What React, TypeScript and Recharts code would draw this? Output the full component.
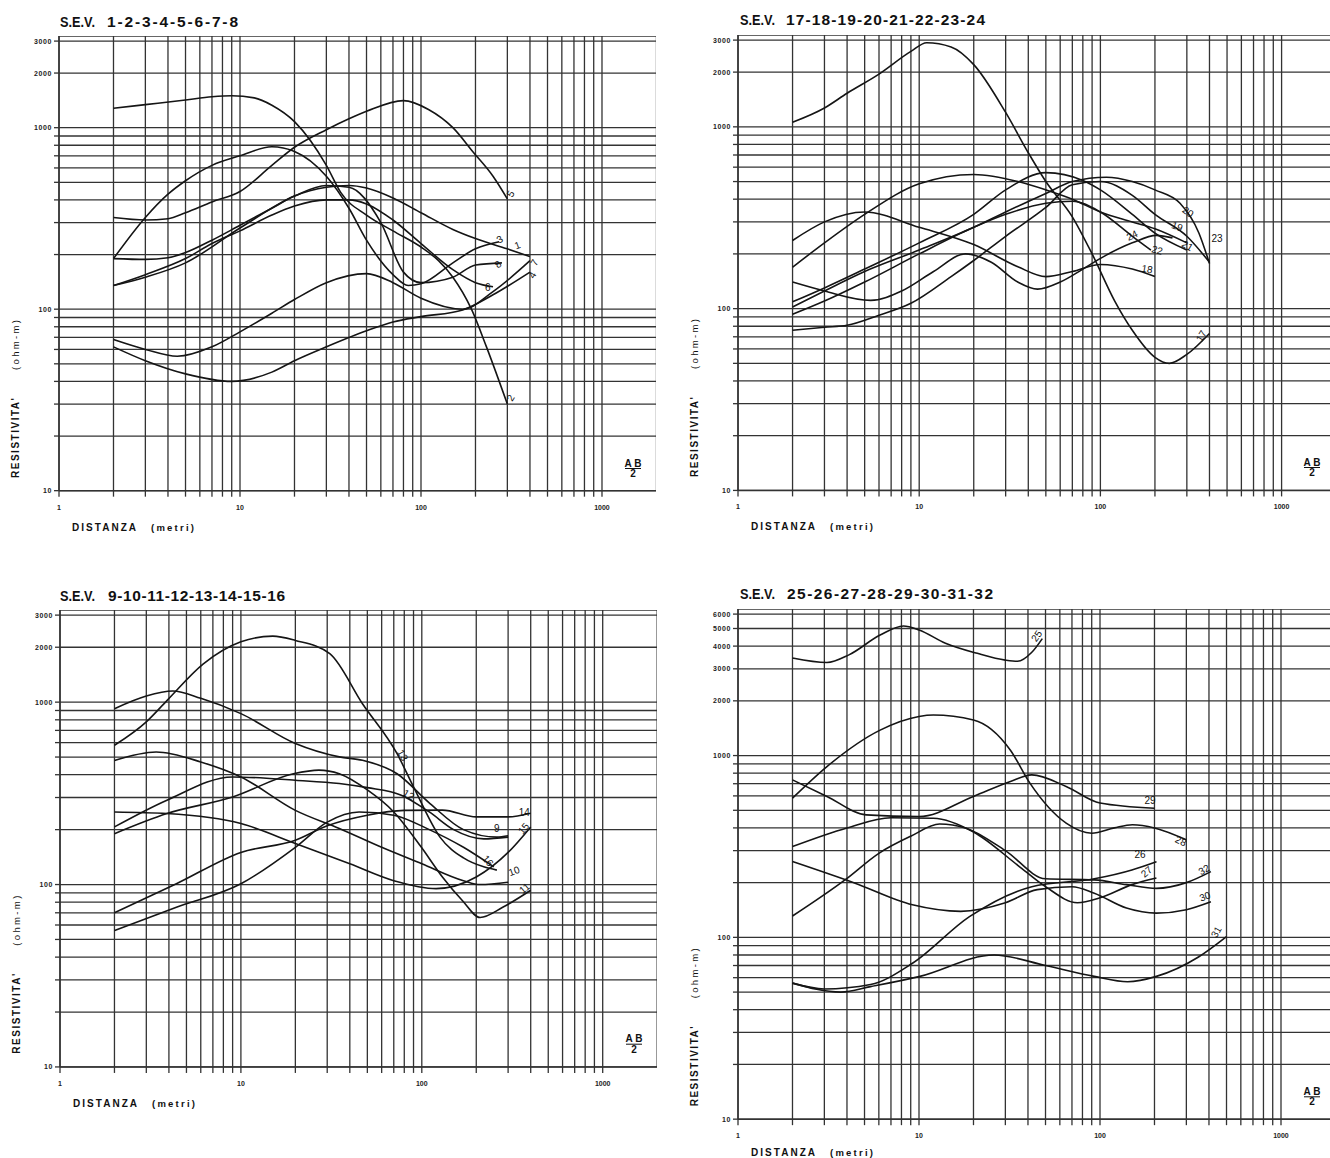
import React from "react";
import { LineChart, Line, XAxis, YAxis, CartesianGrid } from "recharts";

type Pt = [number, number];

// grid / tick values
const xTicks = [1, 2, 3, 4, 5, 6, 7, 8, 9, 10, 20, 30, 40, 50, 60, 70, 80, 90, 100, 200, 300, 400, 500, 600, 700, 800, 900, 1000];
const xLabels = [1, 10, 100, 1000];
const yTicks = [10, 20, 30, 40, 50, 60, 70, 80, 90, 100, 200, 300, 400, 500, 600, 700, 800, 900, 1000, 2000, 3000];
const yTicksHigh = [...yTicks, 4000, 5000, 6000];
const yLabels = [10, 100, 1000, 2000, 3000];
const yLabelsHigh = [10, 100, 1000, 2000, 3000, 4000, 5000, 6000];

// S.E.V. 1-8  [distanza AB/2 (m), resistivita (ohm-m)]
const sev1: Pt[] = [[2, 190], [3, 188], [4, 192], [5, 205], [7, 240], [10, 290], [15, 360], [20, 420], [30, 470], [40, 480], [50, 465], [70, 410], [100, 340], [150, 275], [200, 245], [300, 215], [400, 195]];
const sev2: Pt[] = [[2, 1280], [3, 1340], [5, 1420], [7, 1480], [9, 1500], [12, 1460], [15, 1330], [20, 1080], [30, 620], [36, 440], [50, 330], [70, 270], [100, 220], [125, 185], [150, 150], [190, 100], [230, 62], [300, 30]];
const sev3: Pt[] = [[2, 190], [3, 320], [4, 430], [5, 510], [7, 620], [10, 700], [15, 785], [20, 740], [30, 540], [40, 360], [50, 240], [70, 155], [85, 135], [100, 138], [150, 180], [200, 215], [270, 235]];
const sev4: Pt[] = [[2, 62], [3, 52], [5, 44], [9, 40], [15, 45], [20, 52], [30, 62], [50, 76], [70, 85], [100, 91], [170, 99], [250, 120], [400, 160]];
const sev5: Pt[] = [[2, 320], [3, 310], [4, 315], [5, 340], [7, 390], [10, 445], [15, 620], [20, 780], [30, 975], [40, 1120], [50, 1230], [80, 1410], [110, 1260], [150, 1000], [195, 730], [250, 540], [300, 405]];
const sev6: Pt[] = [[2, 135], [3, 155], [5, 190], [7, 230], [10, 270], [15, 330], [20, 370], [30, 400], [40, 400], [50, 380], [70, 310], [100, 230], [150, 165], [200, 140], [250, 133]];
const sev7: Pt[] = [[2, 68], [3, 60], [4.5, 55], [7, 62], [10, 75], [15, 95], [20, 113], [30, 140], [50, 157], [70, 140], [100, 115], [170, 100], [250, 125], [400, 185]];
const sev8: Pt[] = [[2, 135], [3, 150], [5, 180], [10, 280], [20, 420], [30, 480], [40, 470], [60, 300], [80, 160], [100, 140], [150, 150], [200, 175], [280, 180]];

// S.E.V. 17-24
const sev17: Pt[] = [[2, 1060], [3, 1270], [4, 1530], [6, 1950], [9, 2600], [11, 2900], [15, 2750], [20, 2200], [30, 1200], [40, 720], [50, 500], [70, 320], [90, 200], [120, 110], [150, 76], [200, 54], [240, 50], [300, 56], [400, 73]];
const sev18: Pt[] = [[2, 237], [3, 300], [5, 340], [10, 280], [20, 225], [35, 170], [50, 150], [70, 160], [100, 175], [150, 165], [200, 150]];
const sev19: Pt[] = [[2, 169], [3, 230], [5, 330], [10, 486], [20, 547], [36, 497], [50, 450], [70, 400], [100, 340], [150, 300], [200, 275], [300, 230]];
const sev20: Pt[] = [[2, 102], [3, 125], [5, 160], [10, 210], [20, 280], [30, 340], [50, 430], [70, 500], [108, 528], [150, 500], [200, 450], [275, 380], [350, 260], [400, 177]];
const sev21: Pt[] = [[2, 109], [3, 130], [5, 165], [10, 230], [20, 330], [30, 450], [50, 560], [80, 507], [100, 450], [150, 330], [200, 260], [300, 210]];
const sev22: Pt[] = [[2, 93], [3, 110], [5, 140], [10, 200], [20, 280], [30, 330], [50, 380], [70, 390], [100, 340], [150, 250], [190, 210]];
const sev23: Pt[] = [[2, 76], [3, 79], [4, 81], [6, 92], [9, 107], [15, 150], [20, 184], [30, 250], [50, 360], [70, 480], [100, 500], [150, 420], [200, 330], [300, 250], [400, 180]];
const sev24: Pt[] = [[2, 140], [3, 125], [5.4, 111], [8, 125], [12, 160], [18, 200], [25, 180], [35, 140], [45, 128], [60, 140], [80, 165], [103, 192], [150, 230], [204, 253], [250, 245]];

// S.E.V. 9-16
const sev9: Pt[] = [[2, 920], [3, 1080], [4.2, 1150], [6, 1050], [10, 865], [20, 593], [35, 501], [47, 480], [73, 405], [111, 278], [170, 200], [260, 182], [300, 185]];
const sev10: Pt[] = [[2, 479], [3.4, 533], [6, 470], [10, 389], [20, 255], [35, 203], [60, 160], [100, 130], [170, 105], [210, 100], [300, 103]];
const sev11: Pt[] = [[2, 190], [3.9, 245], [9, 302], [19.5, 405], [27, 424], [35, 405], [50, 330], [70, 250], [99, 161], [130, 110], [167, 82], [210, 66], [280, 75], [400, 93]];
const sev12: Pt[] = [[2, 207], [3.9, 290], [9, 389], [20, 373], [35, 358], [50, 340], [77, 309], [110, 250], [150, 200], [220, 178], [300, 182]];
const sev13: Pt[] = [[2, 580], [3, 780], [3.9, 1020], [6.2, 1620], [10, 2140], [15, 2300], [20, 2180], [31, 1845], [47, 980], [73, 522], [90, 343], [126, 182], [170, 140], [220, 125], [260, 120]];
const sev14: Pt[] = [[2, 70], [4.4, 101], [10, 150], [20, 175], [30, 210], [50, 240], [80, 255], [130, 256], [200, 235], [300, 235], [400, 246]];
const sev15: Pt[] = [[2, 250], [3.9, 245], [10, 216], [20, 168], [40, 130], [70, 105], [120, 95], [200, 110], [300, 150], [400, 207]];
const sev16: Pt[] = [[2, 56], [4.4, 75], [10, 101], [20, 160], [30, 220], [45, 250], [70, 240], [110, 200], [170, 160], [250, 125]];

// S.E.V. 25-32
const sev25: Pt[] = [[2, 3440], [3.1, 3250], [4.1, 3580], [6.1, 4600], [8.2, 5160], [10, 4910], [14, 4150], [21, 3650], [30, 3350], [35, 3300], [42, 3700], [48, 4400]];
const sev26: Pt[] = [[2, 56], [3, 52], [5.4, 55], [9.2, 72], [19, 130], [42, 190], [93, 210], [150, 235], [205, 261]];
const sev27: Pt[] = [[2, 316], [4, 400], [7, 455], [12, 452], [20, 380], [35, 250], [50, 190], [75, 155], [100, 165], [150, 195], [205, 212]];
const sev28: Pt[] = [[2, 583], [3.1, 870], [6.1, 1380], [10, 1640], [12, 1670], [20, 1570], [32, 1070], [41, 705], [65, 425], [90, 374], [120, 400], [151, 416], [200, 400], [300, 344]];
const sev29: Pt[] = [[2, 735], [3.1, 596], [5.1, 472], [10, 462], [20, 596], [32, 720], [42, 783], [65, 676], [100, 548], [200, 513]];
const sev30: Pt[] = [[2, 261], [4.4, 199], [9.2, 151], [17, 139], [30, 155], [45, 183], [70, 190], [93, 175], [140, 145], [205, 136], [300, 142], [410, 157]];
const sev31: Pt[] = [[2, 56], [3.7, 50], [5.4, 53.6], [10, 60.8], [26, 80], [50, 70], [93, 61], [142, 57], [205, 61], [350, 78], [500, 101]];
const sev32: Pt[] = [[2, 131], [3.9, 207], [6, 290], [9, 360], [13, 420], [18, 400], [30, 300], [50, 210], [93, 207], [140, 195], [205, 186], [300, 200], [410, 230]];

// label placement next to the end of each curve: [dx, dy, angle]
type Lab = [number, number, number];
type Curve = { name: string; pts: Pt[]; lab: Lab };

const LINE = "#151515";
const GRID = "#333";
const FONT = "'Liberation Sans', Arial, Helvetica, sans-serif";
const Y_W = 50;
const X_H = 30;

const panels = [
  {
    title: "1-2-3-4-5-6-7-8", titleX: 60, titleY: 26.5, numX: 107, numW: 131, distY: 530.5,
    plotLeft: 59, plotBottom: 491, decX: 181, decY: 181.5, yMax: 3200, yTicks, yLabels,
    curves: [
      { name: "1", pts: sev1, lab: [-14, -7, -20] },
      { name: "2", pts: sev2, lab: [5, -2, -60] },
      { name: "3", pts: sev3, lab: [0, 2, -30] },
      { name: "4", pts: sev4, lab: [4, 7, -60] },
      { name: "5", pts: sev5, lab: [5, -1, -60] },
      { name: "6", pts: sev6, lab: [-8, 4, 0] },
      { name: "7", pts: sev7, lab: [6, 6, -60] },
      { name: "8", pts: sev8, lab: [-4, 6, -40] },
    ] as Curve[],
  },
  {
    title: "17-18-19-20-21-22-23-24", titleX: 740, titleY: 25, numX: 786, numW: 199, distY: 530,
    plotLeft: 738, plotBottom: 490, decX: 181.2, decY: 181.8, yMax: 3200, yTicks, yLabels,
    curves: [
      { name: "17", pts: sev17, lab: [-8, 9, -60] },
      { name: "18", pts: sev18, lab: [-14, -5, 10] },
      { name: "19", pts: sev19, lab: [-16, -15, 20] },
      { name: "20", pts: sev20, lab: [-28, -52, 35] },
      { name: "21", pts: sev21, lab: [-6, -4, 30] },
      { name: "22", pts: sev22, lab: [0, 2, 15] },
      { name: "23", pts: sev23, lab: [2, -20, 0] },
      { name: "24", pts: sev24, lab: [-44, 3, -25] },
    ] as Curve[],
  },
  {
    title: "9-10-11-12-13-14-15-16", titleX: 60, titleY: 600.5, numX: 108, numW: 177, distY: 1106.5,
    plotLeft: 60, plotBottom: 1066.7, decX: 180.9, decY: 182.4, yMax: 3200, yTicks, yLabels,
    curves: [
      { name: "9", pts: sev9, lab: [-14, -4, 0] },
      { name: "10", pts: sev10, lab: [2, -6, -20] },
      { name: "11", pts: sev11, lab: [-8, 4, -40] },
      { name: "12", pts: sev12, lab: [-106, -42, 30] },
      { name: "13", pts: sev13, lab: [-100, -118, 60] },
      { name: "14", pts: sev14, lab: [-12, 3, 0] },
      { name: "15", pts: sev15, lab: [-8, 8, -50] },
      { name: "16", pts: sev16, lab: [-12, -8, 50] },
    ] as Curve[],
  },
  {
    title: "25-26-27-28-29-30-31-32", titleX: 740, titleY: 599, numX: 787, numW: 206, distY: 1155.5,
    plotLeft: 738, plotBottom: 1119.3, decX: 181, decY: 181.8, yMax: 6400, yTicks: yTicksHigh, yLabels: yLabelsHigh,
    curves: [
      { name: "25", pts: sev25, lab: [-6, 4, -55] },
      { name: "26", pts: sev26, lab: [-22, -4, 0] },
      { name: "27", pts: sev27, lab: [-12, 0, -40] },
      { name: "28", pts: sev28, lab: [-12, 2, 25] },
      { name: "29", pts: sev29, lab: [-10, -4, 0] },
      { name: "30", pts: sev30, lab: [-10, 0, -20] },
      { name: "31", pts: sev31, lab: [-10, 2, -60] },
      { name: "32", pts: sev32, lab: [-10, 4, -30] },
    ] as Curve[],
  },
];

const XTick = (props: any) => {
  const { x, y, payload } = props;
  if (!xLabels.includes(payload.value)) return <g />;
  return (
    <text x={x} y={y + 11} textAnchor="middle" fontSize={7} fontWeight="bold" fontFamily={FONT} fill="#222">
      {payload.value}
    </text>
  );
};

const makeYTick = (labels: number[]) => (props: any) => {
  const { x, y, payload } = props;
  if (!labels.includes(payload.value)) return <g />;
  return (
    <text x={x} y={y + 2.5} textAnchor="end" fontSize={7} fontWeight="bold" fontFamily={FONT} fill="#222" letterSpacing={0.6}>
      {payload.value}
    </text>
  );
};

const endLabel = (c: Curve) => (props: any) => {
  const { x, y, index } = props;
  if (index !== c.pts.length - 1) return <g />;
  const [dx, dy, angle] = c.lab;
  const lx = x + dx;
  const ly = y + dy;
  return (
    <text x={lx} y={ly} fontSize={10} fontFamily={FONT} fill="#111" transform={`rotate(${angle} ${lx} ${ly})`}>
      {c.name}
    </text>
  );
};

function Panel({ p }: { p: (typeof panels)[number] }) {
  const plotW = p.decX * Math.log10(2000);
  const plotH = p.decY * Math.log10(p.yMax / 10);
  const YTick = makeYTick(p.yLabels);
  return (
    <div style={{ position: "absolute", left: p.plotLeft - Y_W, top: p.plotBottom - plotH }}>
      <LineChart width={Y_W + plotW} height={plotH + X_H} margin={{ top: 0, right: 0, bottom: 0, left: 0 }}>
        <CartesianGrid stroke={GRID} strokeWidth={1.3} />
        <XAxis
          type="number"
          dataKey="d"
          scale="log"
          domain={[1, 2000]}
          ticks={xTicks}
          interval={0}
          allowDataOverflow
          height={X_H}
          tickSize={6}
          tick={<XTick />}
          axisLine={{ stroke: GRID, strokeWidth: 1.5 }}
          tickLine={{ stroke: GRID, strokeWidth: 1.3 }}
        />
        <YAxis
          type="number"
          dataKey="r"
          scale="log"
          domain={[10, p.yMax]}
          ticks={p.yTicks}
          interval={0}
          allowDataOverflow
          width={Y_W}
          tickSize={5}
          tick={<YTick />}
          axisLine={{ stroke: GRID, strokeWidth: 1.5 }}
          tickLine={{ stroke: GRID, strokeWidth: 1.3 }}
        />
        {p.curves.map((c) => (
          <Line
            key={c.name}
            data={c.pts.map(([d, r]) => ({ d, r }))}
            dataKey="r"
            type="monotone"
            stroke={LINE}
            strokeWidth={1.6}
            dot={false}
            isAnimationActive={false}
            label={endLabel(c)}
          />
        ))}
      </LineChart>
    </div>
  );
}

function Texts({ p }: { p: (typeof panels)[number] }) {
  const left = p.plotLeft;
  const bottom = p.plotBottom;
  const yTitleX = left - 40;
  const abX = left + 574;
  return (
    <g fontFamily={FONT} fill="#111">
      <text x={p.titleX} y={p.titleY} fontSize={14} fontWeight="bold" textLength={35} lengthAdjust="spacingAndGlyphs">
        S.E.V.
      </text>
      <text x={p.numX} y={p.titleY} fontSize={15.5} fontWeight="bold" textLength={p.numW} lengthAdjust="spacing">
        {p.title}
      </text>
      <text x={left + 13} y={p.distY} fontSize={10} fontWeight="bold" textLength={64} lengthAdjust="spacing">
        DISTANZA
      </text>
      <text x={left + 92} y={p.distY} fontSize={9.5} fontWeight="bold" textLength={43} lengthAdjust="spacing">
        (metri)
      </text>
      <text
        x={yTitleX}
        y={bottom - 13}
        fontSize={10}
        fontWeight="bold"
        textLength={80}
        lengthAdjust="spacing"
        transform={`rotate(-90 ${yTitleX} ${bottom - 13})`}
      >
        RESISTIVITA'
      </text>
      <text
        x={yTitleX}
        y={bottom - 121}
        fontSize={9.5}
        textLength={50}
        lengthAdjust="spacing"
        transform={`rotate(-90 ${yTitleX} ${bottom - 121})`}
      >
        (ohm-m)
      </text>
      <text x={abX} y={bottom - 24.5} fontSize={10} fontWeight="bold" textAnchor="middle">
        A B
      </text>
      <line x1={abX - 8} x2={abX + 8} y1={bottom - 22.5} y2={bottom - 22.5} stroke="#111" strokeWidth={1} />
      <text x={abX} y={bottom - 14} fontSize={10} fontWeight="bold" textAnchor="middle">
        2
      </text>
    </g>
  );
}

export default function App() {
  return (
    <div style={{ position: "absolute", left: 0, top: 0, width: 1330, height: 1158, overflow: "hidden", background: "#fff" }}>
      {panels.map((p, i) => (
        <Panel key={i} p={p} />
      ))}
      <svg width={1330} height={1158} style={{ position: "absolute", left: 0, top: 0, pointerEvents: "none" }}>
        {panels.map((p, i) => (
          <Texts key={i} p={p} />
        ))}
      </svg>
    </div>
  );
}
